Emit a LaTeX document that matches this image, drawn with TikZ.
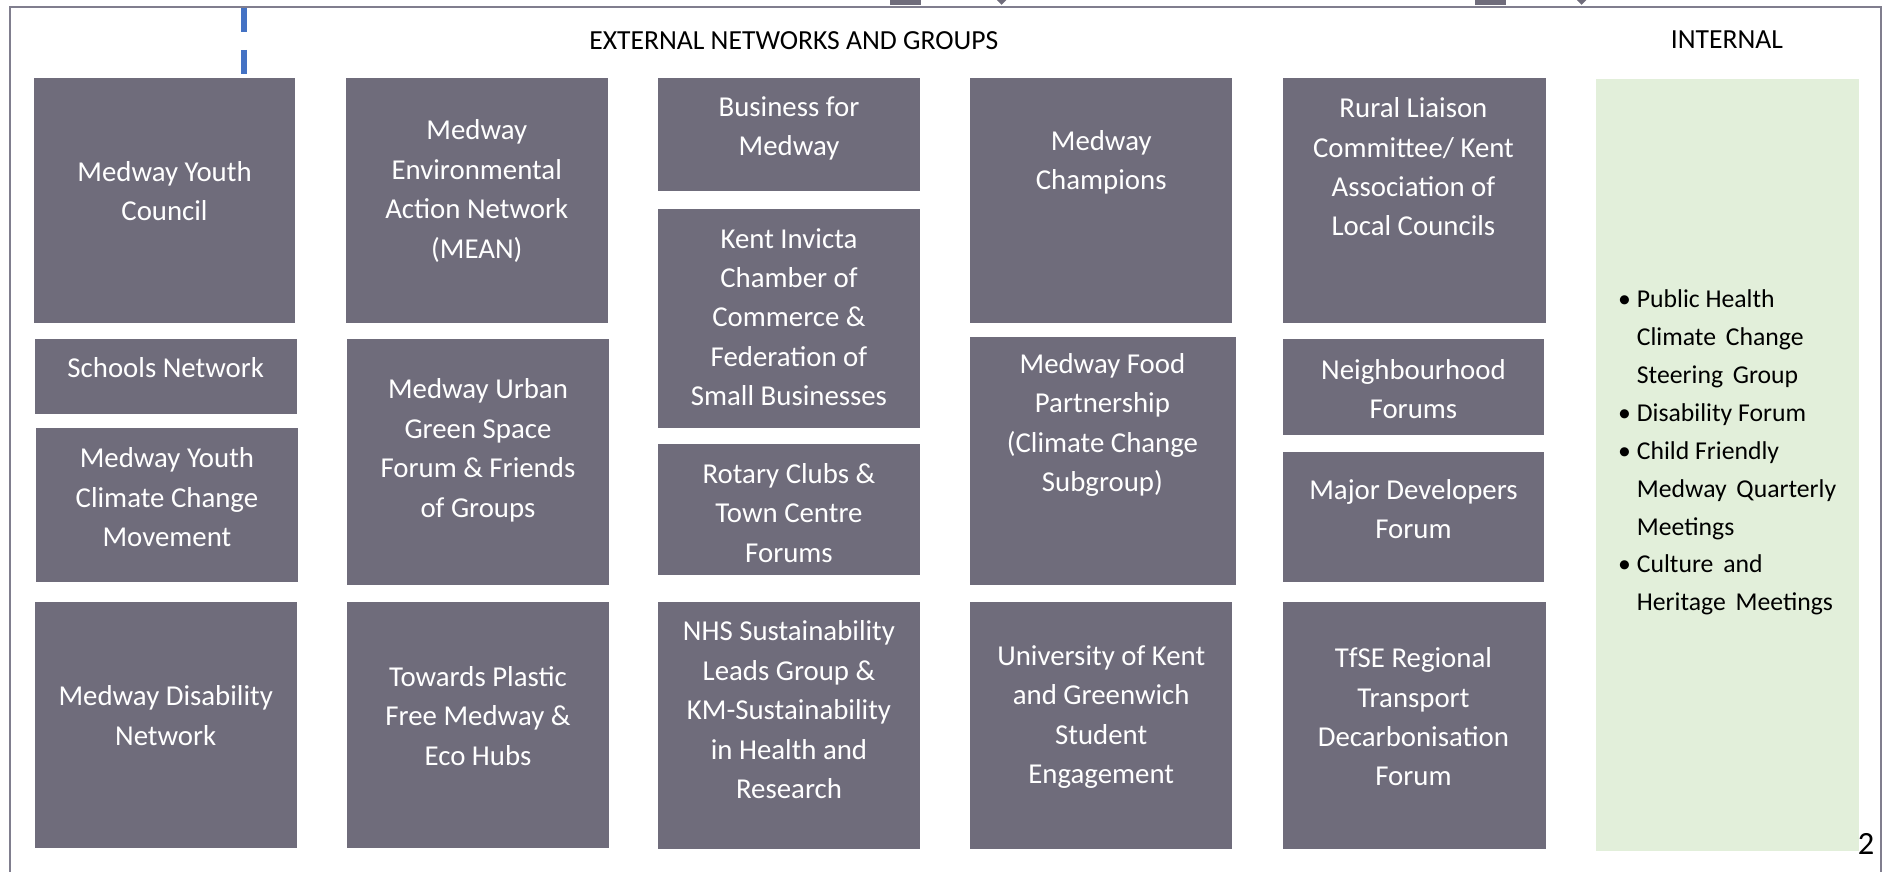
\documentclass[tikz,border=0pt]{standalone}
\usepackage{fontspec}
\setmainfont{Carlito}
\definecolor{grpgray}{RGB}{111,108,123}
\definecolor{framegray}{RGB}{128,126,142}
\definecolor{intgreen}{RGB}{226,239,218}
\definecolor{linkblue}{RGB}{68,114,196}
\newcommand{\wsp}{\hspace{0.38em}}
\begin{document}
\begin{tikzpicture}[x=0.5pt, y=-0.5pt,
                    box/.style = {fill=grpgray},
                    boxtext/.style = {text=white, align=center, inner sep=0pt, yshift=-1.5pt, font=\fontsize{12}{16.4}\selectfont},
                    heading/.style = {inner sep=0pt, font=\fontsize{11.5}{14}\selectfont},
                    inttext/.style = {inner sep=0pt, font=\fontsize{10.7}{15.8}\selectfont}]
                    \useasboundingbox (0,0) rectangle (1568,726);

                    \draw[framegray, line width=0.85pt] (8,726) -- (8,6) -- (1566,6) -- (1566,726);

                    \fill[box] (741,0) rectangle (767,4);
                    \fill[box] (830,0) -- (838,0) -- (834,4) -- cycle;
                    \fill[box] (1228,0) rectangle (1254,4);
                    \fill[box] (1313,0) -- (1321,0) -- (1317,4) -- cycle;

                    \coordinate (linktop) at (203,7);
                    \coordinate (linkend) at (203,62);
                    \draw[linkblue, line width=2.5pt, dash pattern=on 10pt off 7.3pt] (linktop) -- (linkend);

                    \node[heading] (external) at (661,34) {EXTERNAL NETWORKS AND GROUPS};
                    \node[heading] (internalhead) at (1438,33) {INTERNAL};

                    \fill[box] (28,65) rectangle (246,269);
                    \node[boxtext] (youthcouncil) at (137,156) {Medway Youth\\Council};
                    \fill[box] (29,282) rectangle (247,345);
                    \node[boxtext] (schools) at (138,303) {Schools Network};
                    \fill[box] (30,356) rectangle (248,485);
                    \node[boxtext] (youthclimate) at (139,411) {Medway Youth\\Climate Change\\Movement};
                    \fill[box] (29,501) rectangle (247,706);
                    \node[boxtext] (disability) at (138,593) {Medway Disability\\Network};

                    \fill[box] (288,65) rectangle (506,269);
                    \node[boxtext] (mean) at (397,156) {Medway\\Environmental\\Action Network\\(MEAN)};
                    \fill[box] (289,282) rectangle (507,487);
                    \node[boxtext] (urbangreen) at (398,372) {Medway Urban\\Green Space\\Forum \& Friends\\of Groups};
                    \fill[box] (289,501) rectangle (507,706);
                    \node[boxtext] (plasticfree) at (398,593) {Towards Plastic\\Free Medway \&\\Eco Hubs};

                    \fill[box] (548,65) rectangle (766,159);
                    \node[boxtext] (business) at (657,104) {Business for\\Medway};
                    \fill[box] (548,174) rectangle (766,356);
                    \node[boxtext] (kentinvicta) at (657,261) {Kent Invicta\\Chamber of\\Commerce \&\\Federation of\\Small Businesses};
                    \fill[box] (548,370) rectangle (766,479);
                    \node[boxtext] (rotary) at (657,424) {Rotary Clubs \&\\Town Centre\\Forums};
                    \fill[box] (548,501) rectangle (766,707);
                    \node[boxtext] (nhs) at (657,588) {NHS Sustainability\\Leads Group \&\\KM-Sustainability\\in Health and\\Research};

                    \fill[box] (808,65) rectangle (1026,269);
                    \node[boxtext] (champions) at (917,132) {Medway\\Champions};
                    \fill[box] (808,281) rectangle (1029,487);
                    \node[boxtext] (food) at (918,351) {Medway Food\\Partnership\\(Climate Change\\Subgroup)};
                    \fill[box] (808,501) rectangle (1026,707);
                    \node[boxtext] (university) at (917,594) {University of Kent\\and Greenwich\\Student\\Engagement};

                    \fill[box] (1068,65) rectangle (1287,269);
                    \node[boxtext] (rural) at (1177,136) {Rural Liaison\\Committee/ Kent\\Association of\\Local Councils};
                    \fill[box] (1068,282) rectangle (1286,362);
                    \node[boxtext] (neighbourhood) at (1177,321) {Neighbourhood\\Forums};
                    \fill[box] (1068,376) rectangle (1286,485);
                    \node[boxtext] (developers) at (1177,421) {Major Developers\\Forum};
                    \fill[box] (1068,501) rectangle (1287,707);
                    \node[boxtext] (tfse) at (1177,594) {TfSE Regional\\Transport\\Decarbonisation\\Forum};

                    \fill[intgreen] (1329,66) rectangle (1548,709);
                    \node[inttext, anchor=west] (internal) at (1347,376) {%
                        \begin{tabular}{@{}l@{\hspace{2.5pt}}l@{}}
                        \textbullet & Public Health\\
                                    & Climate\wsp Change\\
                                    & Steering\wsp Group\\
                        \textbullet & Disability Forum\\
                        \textbullet & Child Friendly\\
                                    & Medway\wsp Quarterly\\
                                    & Meetings\\
                        \textbullet & Culture\wsp and\\
                                    & Heritage\wsp Meetings
                        \end{tabular}};

                    \node[inner sep=0pt, font=\fontsize{13.5}{15}\selectfont] (pagenum) at (1554,703) {2};
                \end{tikzpicture}
\end{document}
